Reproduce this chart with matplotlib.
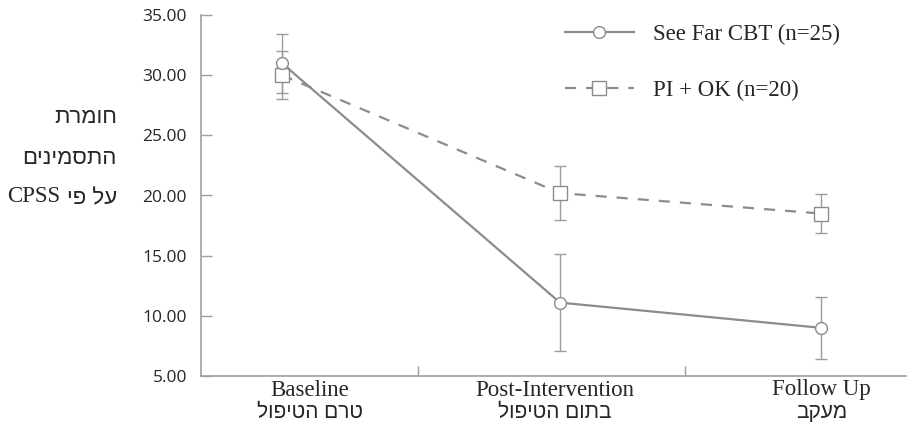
import matplotlib
matplotlib.use("Agg")
import matplotlib.pyplot as plt
from matplotlib.transforms import blended_transform_factory

#%% Data
categories_en = ["Baseline", "Post-Intervention", "Follow Up"]
categories_he = ["טרם הטיפול", "בתום הטיפול", "מעקב"]

cbt_mean = [31.0, 11.1, 9.0]
cbt_err = [2.45, 4.0, 2.6]
pi_mean = [30.0, 20.2, 18.5]
pi_err = [2.0, 2.25, 1.65]
series_labels = ["See Far CBT (n=25)", "PI + OK (n=20)"]

ylabel_lines = ["חומרת", "התסמינים", "על פי"]
ylabel_tail = "CPSS"
yticks = [5, 10, 15, 20, 25, 30, 35]

# where things sit along the category axis
point_x = [0, 1, 1.94]
label_x = [0.1, 0.98, 1.94]
bin_edges = [0.49, 1.45]

SERIF = ["Liberation Serif", "DejaVu Serif"]
HEB = ["Liberation Sans", "DejaVu Sans"]
TICKFONT = ["Open Sans", "DejaVu Sans"]
TEXT = "#262626"
LINE = "#8c8c8c"
ERR = "#9c9c9c"
AXIS = "#a0a0a0"


def rtl(s):
    """matplotlib has no bidi support, so flip Hebrew for display."""
    return s[::-1]


#%% Figure
W, H = 907, 433
fig = plt.figure(figsize=(W / 100, H / 100), dpi=100)
ax = fig.add_axes([201 / W, 1 - 376 / H, 1 - 201 / W, (376 - 15) / H])

# error bars first, lines/markers on top
ax.errorbar(point_x, pi_mean, yerr=pi_err, fmt="none", ecolor=ERR,
            elinewidth=1.0, capsize=4.3, capthick=1.0, zorder=2)
ax.errorbar(point_x, cbt_mean, yerr=cbt_err, fmt="none", ecolor=ERR,
            elinewidth=1.0, capsize=4.3, capthick=1.0, zorder=2)

pi_line, = ax.plot(point_x, pi_mean, color=LINE, lw=1.6, dashes=(5, 4.5),
                   marker="s", ms=10.5, mfc="white", mec=LINE, mew=1.0, zorder=3)
cbt_line, = ax.plot(point_x, cbt_mean, color=LINE, lw=1.6,
                    marker="o", ms=8.5, mfc="white", mec=LINE, mew=1.0, zorder=4)

ax.set_ylim(5, 35)
ax.set_xlim(-0.291, 2.248)
ax.set_yticks(yticks)
ax.set_yticklabels([f"{v:.2f}" for v in yticks], family=TICKFONT,
                   fontsize=12.5, color=TEXT)
ax.set_xticks(bin_edges)
ax.set_xticklabels([])
ax.tick_params(axis="y", direction="in", length=8, width=1.0, color=AXIS, pad=10)
ax.tick_params(axis="x", direction="in", length=7, width=1.0, color=AXIS)

for side in ["top", "right"]:
    ax.spines[side].set_visible(False)
for side in ["left", "bottom"]:
    ax.spines[side].set_color(AXIS)
    ax.spines[side].set_linewidth(1.2)

# category labels: English over Hebrew
trans = blended_transform_factory(ax.transData, fig.transFigure)
for x, en, he in zip(label_x, categories_en, categories_he):
    ax.text(x, 1 - 390 / H, en, transform=trans, ha="center", va="center",
            family=SERIF, fontsize=16.5, color=TEXT)
    ax.text(x, 1 - 412 / H, rtl(he), transform=trans, ha="center", va="center",
            family=HEB, fontsize=15, color=TEXT)

# y label, three right aligned lines
for y, line in zip([118, 158], ylabel_lines[:2]):
    fig.text(117 / W, 1 - y / H, rtl(line), ha="right", va="center",
             family=HEB, fontsize=16, color=TEXT)
heb = fig.text(117 / W, 1 - 199 / H, rtl(ylabel_lines[2]), ha="right", va="center",
               family=HEB, fontsize=16, color=TEXT)
fig.canvas.draw()
heb_left = heb.get_window_extent().x0
fig.text((heb_left - 6) / W, 1 - 197 / H, ylabel_tail, ha="right", va="center",
         family=SERIF, fontsize=16.5, color=TEXT)

# legend
handles = [cbt_line, pi_line]
ax.legend(handles, series_labels, loc="upper left",
          bbox_to_anchor=(565 / W, 1 - 24 / H), bbox_transform=fig.transFigure,
          frameon=False, prop={"family": SERIF, "size": 16.5},
          handlelength=3.0, handletextpad=0.85, labelspacing=1.5,
          borderpad=0, borderaxespad=0, numpoints=1, labelcolor=TEXT)

fig.savefig("out.png", dpi=100)
